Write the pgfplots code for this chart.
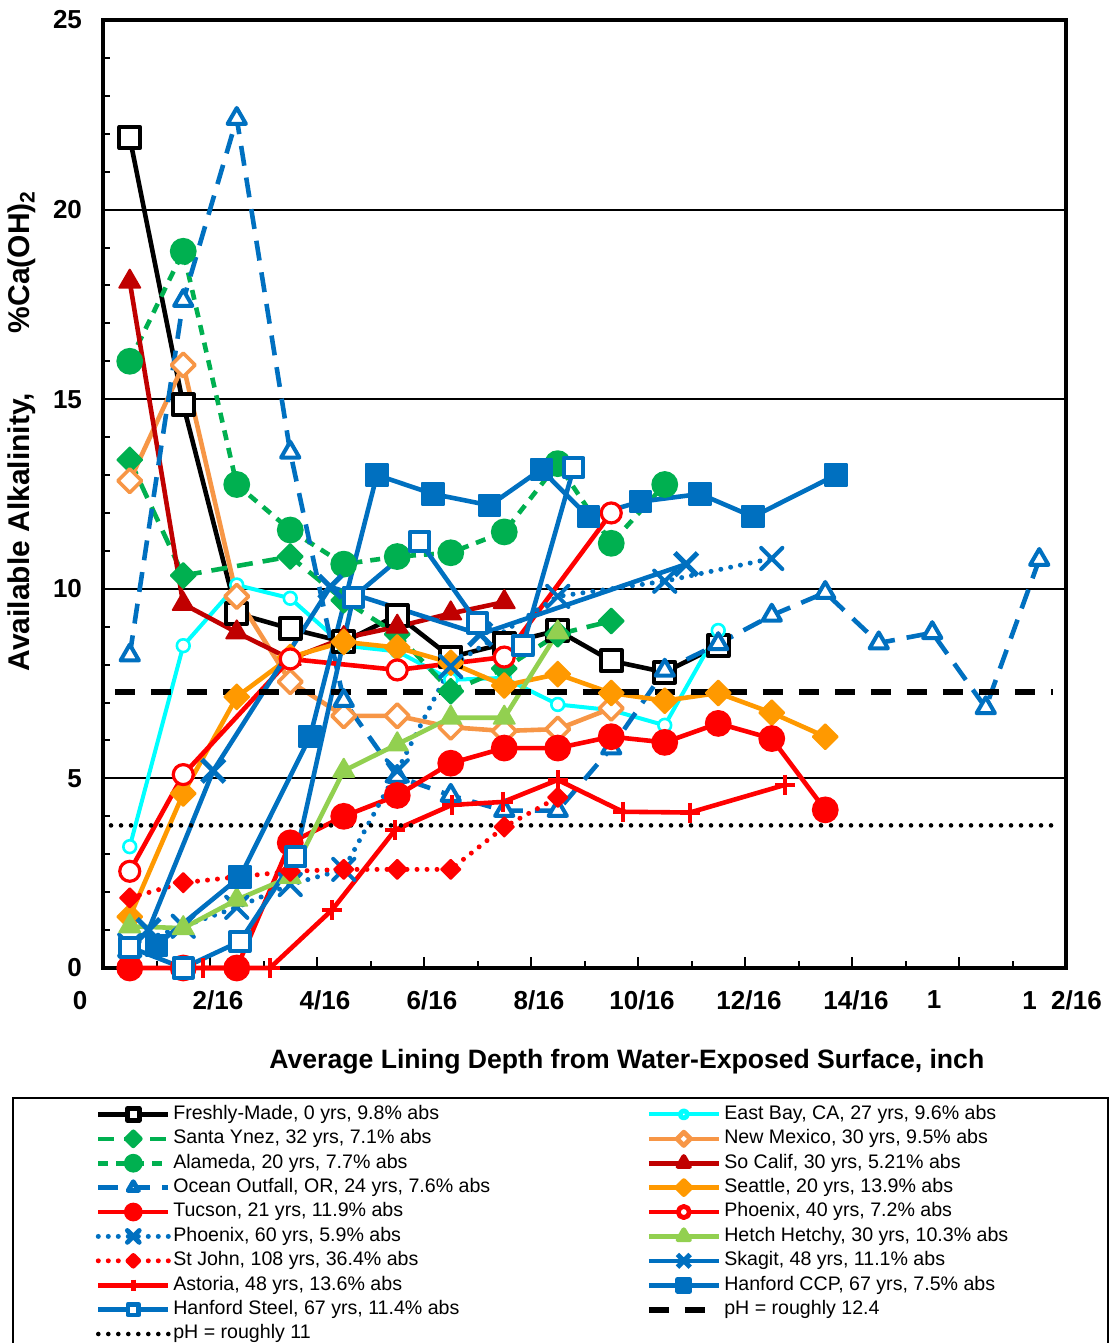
\documentclass[border=0pt]{standalone}
\usepackage{fontspec}
\setmainfont{Liberation Sans}
\usepackage{pgfplots}
\pgfplotsset{compat=1.18}
\definecolor{cCyan}{HTML}{00FFFF}
\definecolor{cGreen}{HTML}{00B050}
\definecolor{cLOrange}{HTML}{F79646}
\definecolor{cDRed}{HTML}{C00000}
\definecolor{cBlue}{HTML}{0070C0}
\definecolor{cOrange}{HTML}{FF9900}
\definecolor{cRed}{HTML}{FF0000}
\definecolor{cLGreen}{HTML}{92D050}
\newcommand\LA[1]{\makebox[235pt][l]{#1}}
\newcommand\LB[1]{\makebox[149pt][l]{#1}}
\newcommand\SH[2]{\makebox[0pt]{\hspace*{#1}#2}}
\begin{document}
\begin{tikzpicture}
\useasboundingbox (0,0) rectangle (556pt,671.5pt);
\begin{axis}[
  at={(51.5pt,187.5pt)}, anchor=south west,
  scale only axis, width=481.5pt, height=474pt,
  xmin=0, xmax=18, ymin=0, ymax=25,
  xtick={0,2,...,18}, minor x tick num=1,
  xticklabels={\SH{-23pt}{0},\SH{8pt}{2/16},\SH{8pt}{4/16},\SH{8pt}{6/16},\SH{8pt}{8/16},\SH{4pt}{10/16},\SH{4pt}{12/16},\SH{4pt}{14/16},\SH{-25pt}{1},\SH{-4pt}{1\ \ 2/16}},
  ytick={0,5,...,25}, minor y tick num=4,
  yticklabels={0,5,10,15,20,25},
  tick pos=left, tick align=inside,
  major tick length=5.5pt, minor tick length=3.5pt,
  tick style={black, line width=1pt},
  ymajorgrids, major grid style={black, line width=1pt},
  axis line style={black, line width=1.6pt},
  xticklabel style={font=\bfseries\fontsize{13}{13}\selectfont, yshift=-8pt},
  yticklabel style={font=\bfseries\fontsize{13}{13}\selectfont, xshift=-7pt},
  xlabel={Average Lining Depth from Water-Exposed Surface, inch},
  ylabel={Available Alkalinity,\hspace{30pt}\%Ca(OH)\textsubscript{2}},
  xlabel style={font=\bfseries\fontsize{13.3}{16}\selectfont, at={(axis description cs:0.544,-0.0992)}, anchor=center},
  ylabel style={font=\bfseries\fontsize{15}{18}\selectfont, at={(axis description cs:-0.084,0.5665)}, anchor=center},
  clip=false,
  every axis plot/.append style={line join=round},
  legend columns=2,
  legend cell align=left,
  legend image code/.code={\draw[mark repeat=2,mark phase=2,#1] plot coordinates {(0pt,0pt) (17.5pt,0pt) (35pt,0pt)};},
  legend image post style={/tikz/every mark/.append style={scale=0.56, line width=2.4pt}},
  legend style={at={(-0.0945,-0.1361)}, anchor=north west, draw=black, line width=0.8pt,
    inner xsep=41.5pt, inner ysep=2.2pt, font=\fontsize{9.8}{11}\selectfont,
    nodes={inner xsep=1.25pt, inner ysep=1.3pt, text height=7.2pt, text depth=2.4pt},
    row sep=0pt, column sep=0pt},
]
% 1 Freshly-Made
\addplot[black, line width=2.3pt, mark=square*, mark size=5.2pt, mark options={solid, fill=white, draw=black, line width=2pt}] coordinates {
(0.5,21.9) (1.5,14.85) (2.5,9.35) (3.5,8.95) (4.5,8.6) (5.5,9.3) (6.5,8.2) (7.5,8.55) (8.5,8.9) (9.5,8.1) (10.5,7.8) (11.5,8.5)};
\addlegendentry{\LA{Freshly-Made, 0 yrs, 9.8\% abs}}
% 2 East Bay
\addplot[cCyan, line width=2pt, mark=*, mark size=3.2pt, mark options={solid, fill=white, draw=cCyan, line width=1.3pt}] coordinates {
(0.5,3.2) (1.5,8.5) (2.5,10.1) (3.5,9.75) (4.5,8.5) (5.5,8.35) (6.5,7.6) (7.5,7.65) (8.5,6.95) (9.5,6.8) (10.5,6.4) (11.5,8.9)};
\addlegendentry{\LB{East Bay, CA, 27 yrs, 9.6\% abs}}
% 3 Santa Ynez
\addplot[cGreen, line width=2.3pt, dash pattern=on 8pt off 5pt, mark=square*, mark size=4.4pt, mark options={solid, rotate=45, fill=cGreen, draw=cGreen, line width=1pt}] coordinates {
(0.5,13.4) (1.5,10.35) (3.5,10.85) (4.5,9.7) (5.5,8.8) (6.5,7.3) (7.5,7.9) (8.5,8.8) (9.5,9.15)};
\addlegendentry{\LA{Santa Ynez, 32 yrs, 7.1\% abs}}
% 4 New Mexico
\addplot[cLOrange, line width=2.3pt, mark=square*, mark size=4.2pt, mark options={solid, rotate=45, fill=white, draw=cLOrange, line width=1.8pt}] coordinates {
(0.5,12.85) (1.5,15.9) (2.5,9.8) (3.5,7.55) (4.5,6.65) (5.5,6.65) (6.5,6.35) (7.5,6.25) (8.5,6.3) (9.5,6.85)};
\addlegendentry{\LB{New Mexico, 30 yrs, 9.5\% abs}}
% 5 Alameda
\addplot[cGreen, line width=2.3pt, dash pattern=on 5pt off 4pt, mark=*, mark size=6.2pt, mark options={solid, fill=cGreen, draw=cGreen, line width=1pt}] coordinates {
(0.5,16.0) (1.5,18.9) (2.5,12.75) (3.5,11.55) (4.5,10.65) (5.5,10.85) (6.5,10.95) (7.5,11.5) (8.5,13.3) (9.5,11.2) (10.5,12.75)};
\addlegendentry{\LA{Alameda, 20 yrs, 7.7\% abs}}
% 6 So Calif
\addplot[cDRed, line width=2.3pt, mark=triangle*, mark size=6pt, mark options={solid, fill=cDRed, draw=cDRed, line width=1pt}] coordinates {
(0.5,18.1) (1.5,9.6) (2.5,8.85) (3.5,8.15) (4.5,8.7) (5.5,9.0) (6.5,9.35) (7.5,9.65)};
\addlegendentry{\LB{So Calif, 30 yrs, 5.21\% abs}}
% 7 Ocean Outfall
\addplot[cBlue, line width=2.3pt, dash pattern=on 10pt off 6pt, mark=triangle*, mark size=5.3pt, mark options={solid, fill=white, draw=cBlue, line width=2pt}] coordinates {
(0.5,8.25) (1.5,17.6) (2.5,22.4) (3.5,13.6) (4.5,7.05) (5.5,5.05) (6.5,4.55) (7.5,4.15) (8.5,4.15) (9.5,5.8) (10.5,7.85) (11.5,8.55) (12.5,9.3) (13.5,9.9) (14.5,8.57) (15.5,8.84) (16.5,6.86) (17.5,10.77)};
\addlegendentry{\LA{Ocean Outfall, OR, 24 yrs, 7.6\% abs}}
% 8 Seattle
\addplot[cOrange, line width=2.3pt, mark=square*, mark size=4.4pt, mark options={solid, rotate=45, fill=cOrange, draw=cOrange, line width=1pt}] coordinates {
(0.5,1.35) (1.5,4.6) (2.5,7.15) (3.5,8.2) (4.5,8.6) (5.5,8.45) (6.5,8.05) (7.5,7.45) (8.5,7.75) (9.5,7.25) (10.5,7.05) (11.5,7.25) (12.5,6.73) (13.5,6.1)};
\addlegendentry{\LB{Seattle, 20 yrs, 13.9\% abs}}
% 9 Tucson
\addplot[cRed, line width=2.3pt, mark=*, mark size=6.2pt, mark options={solid, fill=cRed, draw=cRed, line width=1pt}] coordinates {
(0.5,0) (1.5,0) (2.5,0) (3.5,3.3) (4.5,4.0) (5.5,4.55) (6.5,5.4) (7.5,5.8) (8.5,5.8) (9.5,6.1) (10.5,5.95) (11.5,6.45) (12.5,6.05) (13.5,4.17)};
\addlegendentry{\LA{Tucson, 21 yrs, 11.9\% abs}}
% 10 Phoenix 40
\addplot[cRed, line width=2.3pt, mark=*, mark size=5pt, mark options={solid, fill=white, draw=cRed, line width=1.6pt}] coordinates {
(0.5,2.55) (1.5,5.1) (3.5,8.15) (5.5,7.86) (7.5,8.2) (9.5,12.0)};
\addlegendentry{\LB{Phoenix, 40 yrs, 7.2\% abs}}
% 11 Phoenix 60
\addplot[cBlue, line width=2.5pt, line cap=round, dash pattern=on 0pt off 5pt, mark=x, mark size=7.5pt, mark options={solid, draw=cBlue, line width=2pt}] coordinates {
(0.5,0.6) (1.5,1.1) (2.5,1.6) (3.5,2.2) (4.5,2.6) (5.5,5.2) (6.5,7.95) (8.5,9.8) (10.5,10.2) (12.5,10.8)};
\addlegendentry{\LA{Phoenix, 60 yrs, 5.9\% abs}}
% 12 Hetch Hetchy
\addplot[cLGreen, line width=2.3pt, mark=triangle*, mark size=6pt, mark options={solid, fill=cLGreen, draw=cLGreen, line width=1pt}] coordinates {
(0.5,1.1) (1.5,1.05) (2.5,1.8) (3.5,2.4) (4.5,5.2) (5.5,5.9) (6.5,6.6) (7.5,6.6) (8.5,8.85)};
\addlegendentry{\LB{Hetch Hetchy, 30 yrs, 10.3\% abs}}
% 13 St John
\addplot[cRed, line width=2.5pt, line cap=round, dash pattern=on 0pt off 5pt, mark=square*, mark size=3.4pt, mark options={solid, rotate=45, fill=cRed, draw=cRed, line width=1pt}] coordinates {
(0.5,1.85) (1.5,2.25) (2.5,2.4) (3.5,2.55) (4.5,2.6) (5.5,2.6) (6.5,2.6) (7.5,3.72) (8.5,4.5)};
\addlegendentry{\LA{St John, 108 yrs, 36.4\% abs}}
% 14 Skagit
\addplot[cBlue, line width=2.3pt, mark=x, mark size=8pt, mark options={solid, draw=cBlue, line width=2.5pt}] coordinates {
(0.85,1.0) (2.06,5.2) (4.25,10.05) (7.05,8.8) (10.9,10.65)};
\addlegendentry{\LB{Skagit, 48 yrs, 11.1\% abs}}
% 15 Astoria
\addplot[cRed, line width=2.3pt, mark=+, mark size=5pt, mark options={solid, draw=cRed, line width=2.2pt}] coordinates {
(1.87,0) (3.12,0) (4.28,1.53) (5.46,3.64) (6.52,4.3) (7.48,4.38) (8.5,4.96) (9.72,4.12) (10.97,4.1) (12.75,4.83)};
\addlegendentry{\LA{Astoria, 48 yrs, 13.6\% abs}}
% 16 Hanford CCP
\addplot[cBlue, line width=2.3pt, mark=square*, mark size=5.3pt, mark options={solid, fill=cBlue, draw=cBlue, line width=1pt}] coordinates {
(1.0,0.6) (2.56,2.4) (3.87,6.1) (5.12,13.0) (6.17,12.5) (7.23,12.2) (8.19,13.15) (9.07,11.9) (10.05,12.3) (11.16,12.5) (12.15,11.9) (13.7,13.0)};
\addlegendentry{\LB{Hanford CCP, 67 yrs, 7.5\% abs}}
% 17 Hanford Steel
\addplot[cBlue, line width=2.3pt, mark=square*, mark size=4.8pt, mark options={solid, fill=white, draw=cBlue, line width=2pt}] coordinates {
(0.5,0.55) (1.5,0) (2.56,0.7) (3.6,2.93) (4.68,9.78) (5.92,11.25) (7.0,9.1) (7.85,8.5) (8.8,13.2)};
\addlegendentry{\LA{Hanford Steel, 67 yrs, 11.4\% abs}}
% 18 pH 12.4
\addplot[black, line width=3pt, dash pattern=on 10pt off 8pt] coordinates {(0.22,7.27) (17.76,7.27)};
\addlegendentry{\LB{pH = roughly 12.4}}
% 19 pH 11
\addplot[black, line width=2.3pt, line cap=round, dash pattern=on 0pt off 5pt] coordinates {(0.15,3.76) (17.8,3.76)};
\addlegendentry{\LA{pH = roughly 11}}
\end{axis}
\end{tikzpicture}
\end{document}
